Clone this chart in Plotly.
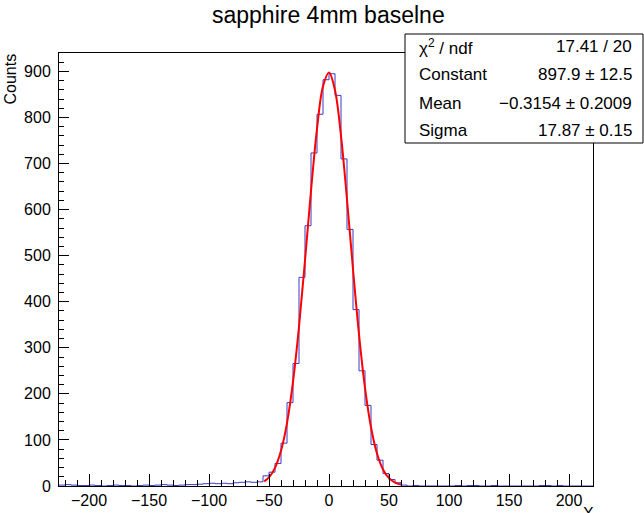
import plotly.graph_objects as go

# ---- data ----
bin_start = -225
bin_width = 5
counts = [
    # -225 ... -65
    2, 3, 2, 1, 1, 2, 1, 0, 1, 2, 1, 1, 0, 1, 2, 1, 2, 3, 2, 1, 2, 3, 3, 4, 5, 6, 5, 6, 5, 7, 8, 9, 8,
    # -60 ... 60
    9, 22, 30, 49, 93, 181, 266, 453, 565, 723, 807, 882, 895, 848, 710, 557, 383, 250, 175, 90, 56, 27, 14, 7, 2,
    # 65 ... 215
    0, 1, 0, 0, 0, 0, 0, 0, 1, 0, 1, 1, 0, 0, 1, 0, 0, 0, 0, 0, 0, 0, 1, 1, 0, 1, 0, 0, 0, 0, 0,
]
fit_x = [-54, -50, -45, -40, -35, -30, -25, -20, -15, -10, -5, 0, 5, 10, 15, 20, 25, 30, 35, 40, 45, 50, 55, 60]
fit_y = [9.9, 18.8, 39.4, 76.3, 136.6, 226.1, 346.0, 489.6, 640.7, 775.4, 867.7, 897.8, 859.0, 760.2,
         622.0, 470.6, 329.2, 213.0, 127.4, 70.5, 36.0, 17.0, 7.5, 3.0]

title_text = "sapphire 4mm baselne"
stats_labels = ["χ<sup>2</sup> / ndf", "Constant", "Mean", "Sigma"]
stats_values = ["17.41 / 20", "897.9 ± 12.5", "−0.3154 ± 0.2009", "17.87 ± 0.15"]

x_range = [-225, 220]
y_range = [0, 940]

# ---- layout geometry (pixels) ----
W, H = 644, 513
L, R, T, B = 59, 593, 53, 486


def px(x):
    return (x - L) / (R - L)


def py(y):
    return (B - y) / (B - T)


edges = [bin_start + bin_width * i for i in range(len(counts) + 1)]
step_y = counts + [counts[-1]]

FONT = "Liberation Sans, Arial, Helvetica, sans-serif"

fig = go.Figure()
fig.add_trace(go.Scatter(
    x=edges, y=step_y, mode="lines", line=dict(color="#3a3ac8", width=1, shape="hv"),
    hoverinfo="skip", showlegend=False,
))
fig.add_trace(go.Scatter(
    x=fit_x, y=fit_y, mode="lines", line=dict(color="#ff0000", width=2, shape="spline", smoothing=1.0),
    hoverinfo="skip", showlegend=False,
))

fig.update_layout(
    width=W, height=H,
    margin=dict(l=L, r=W - R, t=T, b=H - B, pad=0, autoexpand=False),
    paper_bgcolor="white", plot_bgcolor="white",
    font=dict(family=FONT, color="black", size=16),
    xaxis=dict(
        range=x_range, showgrid=False, zeroline=False, automargin=False,
        showline=True, linecolor="black", linewidth=1, mirror=True,
        ticks="inside", ticklen=12, tickwidth=1, tickcolor="black",
        tickvals=[-200, -150, -100, -50, 0, 50, 100, 150, 200],
        tickfont=dict(size=16, family=FONT),
        minor=dict(dtick=10, ticks="inside", ticklen=6, tickcolor="black", tickwidth=1),
    ),
    yaxis=dict(
        range=y_range, showgrid=False, zeroline=False, automargin=False,
        showline=True, linecolor="black", linewidth=1, mirror=True,
        ticks="inside", ticklen=10, tickwidth=1, tickcolor="black",
        tickvals=[0, 100, 200, 300, 400, 500, 600, 700, 800, 900],
        tickfont=dict(size=16, family=FONT),
        minor=dict(dtick=20, ticks="inside", ticklen=5, tickcolor="black", tickwidth=1),
        ticklabelstandoff=4,
    ),
)

annotations = [
    dict(text=title_text, x=px(328), y=py(15), xref="paper", yref="paper",
         xanchor="center", yanchor="middle", showarrow=False,
         font=dict(size=23, family=FONT, color="black")),
    dict(text="Counts", x=px(10), y=py(52), xref="paper", yref="paper",
         xanchor="center", yanchor="top", textangle=-90, showarrow=False,
         font=dict(size=16, family=FONT, color="black")),
    dict(text="X", x=px(588), y=py(503), xref="paper", yref="paper",
         xanchor="center", yanchor="top", showarrow=False,
         font=dict(size=16, family=FONT, color="black")),
]

# stats box
box_l, box_r, box_t, box_b = 405, 643, 34, 143
fig.add_shape(type="rect", xref="paper", yref="paper",
              x0=px(box_l), x1=px(box_r), y0=py(box_b), y1=py(box_t),
              line=dict(color="black", width=1), fillcolor="white", layer="above")
row_y = [47, 75, 103, 130]
for lab, val, yy in zip(stats_labels, stats_values, row_y):
    annotations.append(dict(text=lab, x=px(417), y=py(yy), xref="paper", yref="paper",
                            xanchor="left", yanchor="middle", showarrow=False,
                            font=dict(size=17, family=FONT, color="black")))
    annotations.append(dict(text=val, x=px(634), y=py(yy), xref="paper", yref="paper",
                            xanchor="right", yanchor="middle", showarrow=False,
                            font=dict(size=17, family=FONT, color="black")))

fig.update_layout(annotations=annotations)

fig.write_html(
    "out.html",
    config={"displayModeBar": False},
    post_script="document.body.style.margin='0';document.body.style.overflow='hidden';",
)
